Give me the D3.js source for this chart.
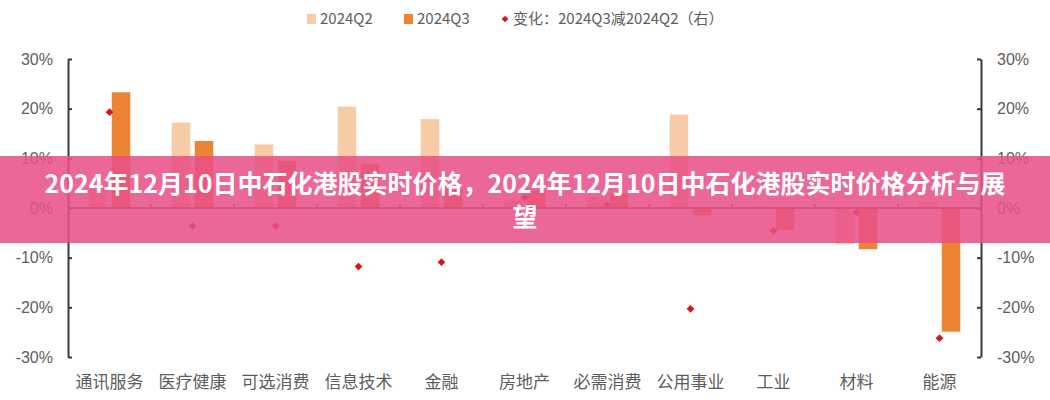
<!DOCTYPE html>
<html>
<head>
<meta charset="utf-8">
<script src="https://cdn.jsdelivr.net/npm/d3@7"></script>
<style>
  html, body { margin: 0; padding: 0; background: #fff; }
  svg { display: block; }
</style>
</head>
<body>
<svg id="chart" width="1050" height="400"></svg>
<script>
const categories = ['通讯服务','医疗健康','可选消费','信息技术','金融','房地产','必需消费','公用事业','工业','材料','能源'];
const q2Values = [4.0, 17.2, 12.8, 20.4, 17.9, 1.8, 2.3, 18.8, 0.3, -7.3, 1.2];
const q3Values = [23.3, 13.5, 9.5, 8.8, 3.8, 3.5, 3.0, -1.5, -4.4, -8.3, -24.9];
const changeValues = [19.3, -3.6, -3.6, -11.8, -10.9, 2.1, 0.6, -20.3, -4.6, -0.9, -26.2];
const yTicks = [-30, -20, -10, 0, 10, 20, 30];
const seriesNames = ['2024Q2', '2024Q3'];
const changeName = '变化：2024Q3减2024Q2（右）';
const titleLines = ['2024年12月10日中石化港股实时价格，2024年12月10日中石化港股实时价格分析与展', '望'];

(function () {
const colors = { q2: '#F7CBA5', q3: '#EC8433', change: '#D9141B', axis: '#3a3a3a', label: '#5e5e5e' };
const cjk = '"Noto Sans CJK SC", "Noto Sans", sans-serif';

const svg = d3.select('#chart');
const mLeft = 68, mRight = 981, mTop = 59, mBottom = 357;

const x0 = d3.scaleBand().domain(categories).range([mLeft, mRight]).paddingInner(0).paddingOuter(0);
const x1 = d3.scaleBand().domain(seriesNames).range([0, x0.bandwidth()]).paddingInner(0.196).paddingOuter(0.9);
const y = d3.scaleLinear().domain([-30, 30]).range([mBottom, mTop]);

const rows = categories.map((c, i) => ({ c, q2: q2Values[i], q3: q3Values[i], ch: changeValues[i] }));

// bars
const g = svg.append('g');
g.selectAll('rect.q2').data(rows).join('rect').attr('class', 'q2')
  .attr('x', d => x0(d.c) + x1('2024Q2'))
  .attr('width', x1.bandwidth())
  .attr('y', d => y(Math.max(0, d.q2)))
  .attr('height', d => Math.abs(y(d.q2) - y(0)))
  .attr('fill', colors.q2);
g.selectAll('rect.q3').data(rows).join('rect').attr('class', 'q3')
  .attr('x', d => x0(d.c) + x1('2024Q3'))
  .attr('width', x1.bandwidth())
  .attr('y', d => y(Math.max(0, d.q3)))
  .attr('height', d => Math.abs(y(d.q3) - y(0)))
  .attr('fill', colors.q3);

// left axis
const axL = svg.append('g').attr('transform', `translate(${mLeft},0)`)
  .call(d3.axisLeft(y).tickValues(yTicks).tickFormat(d => d + '%').tickSizeInner(-4).tickSizeOuter(0).tickPadding(15));
// right axis
const axR = svg.append('g').attr('transform', `translate(${mRight},0)`)
  .call(d3.axisRight(y).tickValues(yTicks).tickFormat(d => d + '%').tickSizeInner(-4).tickSizeOuter(0).tickPadding(16));
[axL, axR].forEach(a => {
  a.select('.domain').attr('stroke', colors.axis).attr('stroke-width', 2);
  a.selectAll('.tick line').attr('stroke', colors.axis).attr('stroke-width', 2);
  a.selectAll('.tick text').attr('fill', colors.label).style('font-family', '"Liberation Sans", Arial, sans-serif').style('font-size', '16px');
});

// zero axis
const zeroY = y(0);
svg.append('line').attr('x1', mLeft).attr('x2', mRight).attr('y1', zeroY).attr('y2', zeroY)
  .attr('stroke', colors.axis).attr('stroke-width', 1.5);
svg.selectAll('line.btick').data(categories.slice(1)).join('line').attr('class', 'btick')
  .attr('x1', d => x0(d)).attr('x2', d => x0(d))
  .attr('y1', zeroY).attr('y2', zeroY - 4)
  .attr('stroke', colors.axis).attr('stroke-width', 1.5);

// category labels
const axB = svg.append('g').attr('transform', `translate(0,${mBottom})`)
  .call(d3.axisBottom(x0).tickSize(0).tickPadding(19));
axB.select('.domain').remove();
axB.selectAll('.tick text').attr('fill', colors.label).style('font-family', cjk).style('font-size', '17px');

// change markers
const diamond = d3.symbol().type(d3.symbolSquare).size(30);
svg.selectAll('path.mk').data(rows).join('path').attr('class', 'mk')
  .attr('d', diamond)
  .attr('transform', d => `translate(${x0(d.c) + x0.bandwidth() / 2},${y(d.ch)}) rotate(45)`)
  .attr('fill', colors.change);

// legend
const lg = svg.append('g').style('font-family', cjk).style('font-size', '15px').attr('fill', colors.label);
const legendY = 19;
lg.append('rect').attr('x', 307).attr('y', legendY - 5).attr('width', 9).attr('height', 10).attr('fill', colors.q2);
lg.append('text').attr('x', 320).attr('y', legendY).attr('dy', '0.35em').text(seriesNames[0]);
lg.append('rect').attr('x', 404).attr('y', legendY - 5).attr('width', 9).attr('height', 10).attr('fill', colors.q3);
lg.append('text').attr('x', 417).attr('y', legendY).attr('dy', '0.35em').text(seriesNames[1]);
lg.append('path').attr('d', d3.symbol().type(d3.symbolSquare).size(22))
  .attr('transform', `translate(505,${legendY}) rotate(45)`).attr('fill', colors.change);
lg.append('text').attr('x', 513).attr('y', legendY).attr('dy', '0.35em').text(changeName);

// banner
svg.append('rect').attr('x', 0).attr('y', 156).attr('width', 1050).attr('height', 87)
  .attr('fill', 'rgb(232,80,135)').attr('fill-opacity', 0.87);
const tt = svg.append('text').attr('text-anchor', 'middle').attr('fill', '#fff')
  .style('font-family', cjk).style('font-weight', 700).style('font-size', '25px');
titleLines.forEach((t, i) => {
  tt.append('tspan').attr('x', 525).attr('y', 184 + i * 33).attr('dy', '0.35em').text(t);
});
})();
</script>
</body>
</html>
